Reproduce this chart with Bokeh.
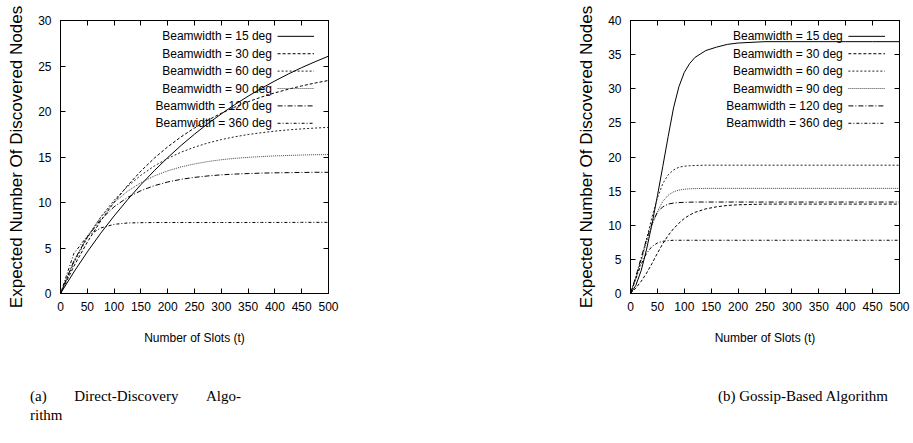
from bokeh.plotting import figure
from bokeh.models import LinearAxis, FixedTicker, Range1d, Div, CustomJSTickFormatter
from bokeh.layouts import row, column
from bokeh.embed import file_html
from bokeh.resources import INLINE
from bokeh.core.properties import value

# ---------------- data ----------------
labels = ["Beamwidth = 15 deg", "Beamwidth = 30 deg", "Beamwidth = 60 deg",
          "Beamwidth = 90 deg", "Beamwidth = 120 deg", "Beamwidth = 360 deg"]

x_ticks = [0, 50, 100, 150, 200, 250, 300, 350, 400, 450, 500]
y_ticks_direct = [0, 5, 10, 15, 20, 25, 30]
y_ticks_gossip = [0, 5, 10, 15, 20, 25, 30, 35, 40]

# (a) Direct-Discovery Algorithm
slots_direct = [0, 25, 50, 75, 100, 125, 150, 175, 200, 225, 250, 275, 300,
                325, 350, 375, 400, 425, 450, 475, 500]
direct_15 = [0, 2.36, 4.57, 6.62, 8.52, 10.30, 11.96, 13.50, 14.93, 16.27, 17.51,
             18.67, 19.74, 20.75, 21.68, 22.55, 23.36, 24.12, 24.82, 25.47, 26.08]
direct_30 = [0, 3.00, 5.64, 7.97, 10.03, 11.85, 13.45, 14.87, 16.12, 17.22, 18.19,
             19.05, 19.81, 20.48, 21.07, 21.59, 22.05, 22.45, 22.81, 23.13, 23.41]
direct_60 = [0, 3.38, 6.14, 8.39, 10.24, 11.76, 13.00, 14.01, 14.84, 15.53, 16.08,
             16.54, 16.91, 17.22, 17.47, 17.67, 17.84, 17.98, 18.09, 18.18, 18.26]
direct_90 = [0, 3.55, 6.28, 8.38, 9.99, 11.23, 12.18, 12.92, 13.48, 13.91, 14.24,
             14.50, 14.70, 14.85, 14.96, 15.05, 15.12, 15.17, 15.22, 15.25, 15.27]
direct_120 = [0, 3.58, 6.20, 8.12, 9.53, 10.55, 11.30, 11.85, 12.25, 12.55, 12.76,
              12.92, 13.04, 13.12, 13.18, 13.23, 13.26, 13.28, 13.30, 13.32, 13.32]
direct_360 = [0, 4.40, 6.30, 7.20, 7.60, 7.75, 7.78, 7.80, 7.80, 7.80, 7.80,
              7.80, 7.80, 7.80, 7.80, 7.81, 7.81, 7.81, 7.82, 7.82, 7.82]

# (b) Gossip-Based Algorithm
slots_gossip = [0, 10, 20, 30, 40, 50, 60, 70, 80, 90, 100, 110, 120, 140, 160,
                180, 200, 250, 300, 350, 400, 450, 500]
gossip_15 = [0, 1.2, 3.4, 6.5, 10.2, 14.3, 18.6, 23.0, 27.2, 30.3, 32.4, 33.7, 34.6,
             35.6, 36.1, 36.5, 36.7, 36.9, 36.9, 36.9, 36.9, 36.9, 36.9]
gossip_30 = [0, 0.8, 1.8, 3.0, 4.4, 5.9, 7.3, 8.5, 9.5, 10.3, 11.0, 11.5, 11.9,
             12.4, 12.7, 12.9, 13.0, 13.1, 13.1, 13.1, 13.1, 13.1, 13.1]
gossip_60 = [0, 2.3, 5.0, 8.0, 11.2, 14.0, 16.1, 17.4, 18.1, 18.5, 18.65, 18.72, 18.76,
             18.8, 18.8, 18.8, 18.8, 18.8, 18.8, 18.8, 18.8, 18.8, 18.8]
gossip_90 = [0, 2.2, 4.8, 7.6, 10.0, 12.0, 13.5, 14.4, 14.9, 15.15, 15.28, 15.34, 15.37,
             15.4, 15.4, 15.4, 15.4, 15.4, 15.4, 15.4, 15.4, 15.4, 15.4]
gossip_120 = [0, 2.5, 5.3, 8.0, 10.3, 11.9, 12.7, 13.1, 13.25, 13.32, 13.36, 13.38, 13.4,
              13.4, 13.4, 13.4, 13.4, 13.4, 13.4, 13.4, 13.4, 13.4, 13.4]
gossip_360 = [0, 2.2, 4.3, 5.9, 6.9, 7.4, 7.65, 7.75, 7.8, 7.8, 7.8, 7.8, 7.8,
              7.8, 7.8, 7.8, 7.8, 7.8, 7.8, 7.8, 7.8, 7.8, 7.8]

caption_a_1 = "(a)&nbsp;&nbsp;&nbsp; Direct-Discovery &nbsp;&nbsp;&nbsp;Algo-"
caption_a_2 = "rithm"
caption_b = "(b) Gossip-Based Algorithm"

# ---------------- styles ----------------
DASHES = ["solid", "3 2", "2 2", "1 1", "5 2 1 2", "3 2 1 2"]
COLORS = ["black", "black", "#222222", "#444444", "black", "black"]
FONT = "Liberation Sans"


def make_fig(width, mbl, mbr, ymax, yticks, xs, series):
    p = figure(width=width, height=350, x_range=Range1d(0, 500), y_range=Range1d(0, ymax),
               output_backend="svg", toolbar_location=None,
               min_border_left=mbl, min_border_right=mbr, min_border_top=20, min_border_bottom=57)
    p.xgrid.visible = False
    p.ygrid.visible = False
    p.outline_line_color = "black"
    p.outline_line_width = 1
    p.background_fill_color = "white"
    p.border_fill_color = "white"

    xa = p.xaxis[0]
    ya = p.yaxis[0]
    xa.ticker = FixedTicker(ticks=x_ticks)
    ya.ticker = FixedTicker(ticks=yticks)
    xa.axis_label = "Number of Slots (t)"
    ya.axis_label = "Expected Number Of Discovered Nodes"
    for ax in (xa, ya):
        ax.major_tick_in = 5
        ax.major_tick_out = 0
        ax.minor_tick_line_color = None
        ax.axis_line_color = "black"
        ax.major_tick_line_color = "black"
        ax.major_label_text_font = FONT
        ax.major_label_text_font_size = "12px"
        ax.major_label_text_color = "black"
        ax.axis_label_text_font = FONT
        ax.axis_label_text_font_style = "normal"
        ax.axis_label_text_color = "black"
    xa.major_label_standoff = 8
    ya.major_label_standoff = 9
    xa.axis_label_text_font_size = "12px"
    xa.axis_label_standoff = 17
    ya.axis_label_text_font_size = "17px"
    ya.axis_label_standoff = 9

    for loc, tk in (("above", x_ticks), ("right", yticks)):
        ax = LinearAxis(ticker=FixedTicker(ticks=tk),
                        formatter=CustomJSTickFormatter(code="return ''"),
                        major_tick_in=5, major_tick_out=0, major_label_standoff=0,
                        major_label_text_font_size="0px",
                        minor_tick_line_color=None, axis_line_color="black",
                        major_tick_line_color="black")
        p.add_layout(ax, loc)

    for ys, dash, col in zip(series, DASHES, COLORS):
        p.line(xs, ys, line_color=col, line_width=1, line_dash=dash)

    # gnuplot-style key: label right-aligned, then line sample
    text_end = 0.789 * 500
    seg_x0 = 0.81 * 500
    seg_x1 = 0.946 * 500
    top = 0.942
    step = 0.0637
    for i, (lab, dash, col) in enumerate(zip(labels, DASHES, COLORS)):
        yy = (top - i * step) * ymax
        p.text(x=[text_end], y=[yy], text=[lab], text_align="right", text_baseline="middle",
               text_font=value(FONT), text_font_size="12px", text_color="black")
        p.segment(x0=[seg_x0], y0=[yy], x1=[seg_x1], y1=[yy], line_color=col,
                  line_width=1, line_dash=dash)
    return p


p1 = make_fig(460, 60, 132, 30, y_ticks_direct, slots_direct,
              [direct_15, direct_30, direct_60, direct_90, direct_120, direct_360])
p2 = make_fig(452, 170, 13, 40, y_ticks_gossip, slots_gossip,
              [gossip_15, gossip_30, gossip_60, gossip_90, gossip_120, gossip_360])

cap_html = (
    '<div style="position:relative;width:900px;height:85px;'
    "font-family:'Liberation Serif',serif;font-size:15px;line-height:19px;color:black;\">"
    '<div style="position:absolute;left:25px;top:32px;width:211px;white-space:nowrap;'
    'text-align:justify;text-align-last:justify;">' + caption_a_1 + '</div>'
    '<div style="position:absolute;left:25px;top:51px;white-space:nowrap;">' + caption_a_2 + '</div>'
    '<div style="position:absolute;left:713px;top:32px;white-space:nowrap;">' + caption_b + '</div>'
    '</div>'
)
captions = Div(text=cap_html, width=912, height=90)

layout = column(row(p1, p2), captions)

with open("out.html", "w") as f:
    f.write(file_html(layout, INLINE))
